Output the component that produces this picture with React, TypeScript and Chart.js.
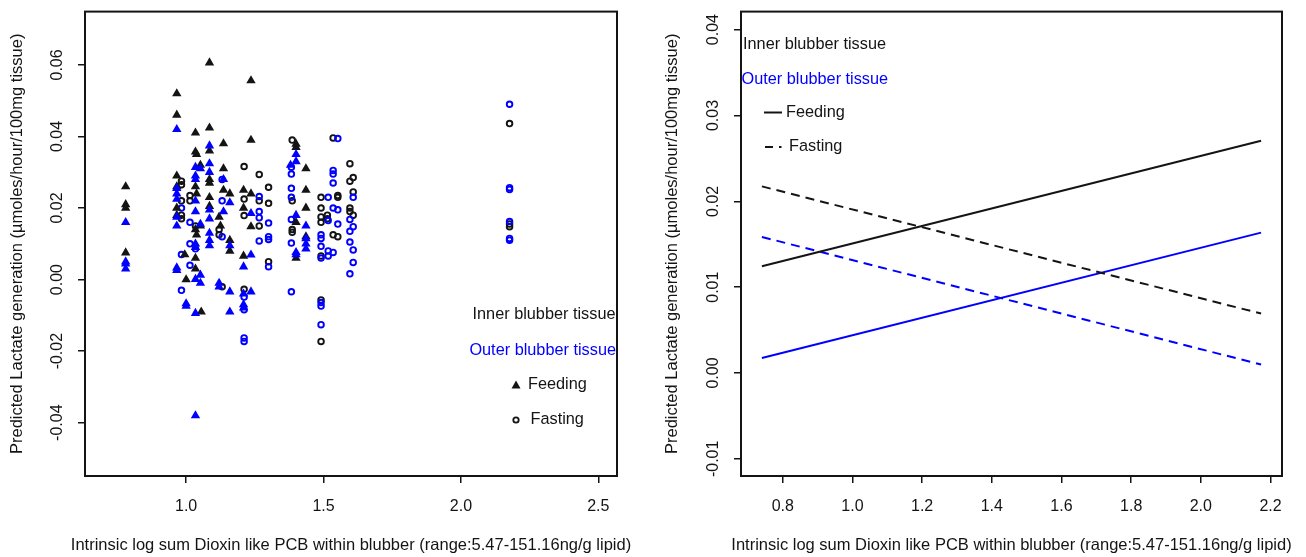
import React, { useEffect, useRef } from "react";
import { Chart, registerables } from "chart.js";
Chart.register(...registerables);

const FONT = "'Liberation Sans', Arial, sans-serif";
const BLUE = "#0000ff";
const INK = "#141414";

// ---------- tick labels ----------
const leftXTicks = [1.0, 1.5, 2.0, 2.5];
const leftYTicks = [-0.04, -0.02, 0.0, 0.02, 0.04, 0.06];
const rightXTicks = [0.8, 1.0, 1.2, 1.4, 1.6, 1.8, 2.0, 2.2];
const rightYTicks = [-0.01, 0.0, 0.01, 0.02, 0.03, 0.04];

const xTitle = "Intrinsic log sum Dioxin like PCB within blubber (range:5.47-151.16ng/g lipid)";
const yTitle = "Predicted Lactate generation (\u00b5moles/hour/100mg tissue)";

// ---------- left panel: observed/predicted points ----------
const innerFeedingX = [
  0.78, 0.78, 0.78, 0.78,
  0.966, 0.966, 0.966, 0.966, 0.966, 0.966,
  0.995, 1.0,
  1.034, 1.034, 1.034, 1.034, 1.034, 1.034,
  1.038, 1.038, 1.038,
  1.052, 1.052, 1.055,
  1.085, 1.085, 1.085, 1.085, 1.085, 1.085, 1.085,
  1.12, 1.125,
  1.136, 1.136, 1.136,
  1.159, 1.159, 1.159,
  1.209, 1.209, 1.209,
  1.236, 1.236, 1.236, 1.236,
  1.4, 1.4, 1.4, 1.4,
  1.436, 1.436, 1.436, 1.436,
];
const innerFeedingY = [
  0.026, 0.021, 0.02, 0.0075,
  0.052, 0.046, 0.029, 0.026, 0.02, 0.018,
  0.007, 0.0,
  0.041, 0.0357, 0.026, 0.014, 0.006, 0.003,
  0.035, 0.024, 0.0125,
  0.032, 0.015, -0.009,
  0.0606, 0.0424, 0.036, 0.028, 0.027, 0.023, 0.0205,
  0.0175, 0.015,
  0.038, 0.031, 0.025,
  0.024, 0.011, 0.008,
  0.025, 0.02, 0.0066,
  0.0556, 0.039, 0.024, 0.0148,
  0.0379, 0.037, 0.016, 0.006,
  0.031, 0.025, 0.02, 0.012,
];

const outerFeedingX = [
  0.78, 0.78, 0.78, 0.78,
  0.966, 0.966, 0.966, 0.966, 0.966, 0.966, 0.966, 0.966,
  1.0, 1.0,
  1.034, 1.034, 1.034, 1.034, 1.034, 1.034, 1.034, 1.034, 1.034, 1.034,
  1.052, 1.052, 1.052, 1.052,
  1.085, 1.085, 1.085, 1.085, 1.085, 1.085, 1.085, 1.085,
  1.136, 1.136, 1.12, 1.12,
  1.159, 1.159, 1.159, 1.159,
  1.209, 1.209, 1.209, 1.209,
  1.236, 1.236, 1.236,
  1.38, 1.4, 1.4, 1.4, 1.4, 1.4,
  1.436, 1.436, 1.436, 1.436,
];
const outerFeedingY = [
  0.016, 0.005, 0.0044, 0.003,
  0.042, 0.0255, 0.024, 0.0225, 0.0175, 0.015, 0.0033, 0.0026,
  -0.0067, -0.0074,
  0.0314, 0.029, 0.028, 0.022, 0.019, 0.01, 0.009, 0.0001, -0.0094, -0.038,
  0.031, 0.0155, 0.0013, -0.001,
  0.0374, 0.0324, 0.03, 0.0195, 0.017, 0.013, 0.011, 0.0095,
  0.028, 0.019, -0.001, -0.002,
  0.0215, 0.0095, -0.0034, -0.009,
  0.0036, -0.004, -0.007, -0.0079,
  0.0185, 0.0069, -0.0034,
  0.032, 0.035, 0.033, 0.018, 0.0076, 0.007,
  0.015, 0.0115, 0.01, 0.0086,
];

const innerFastingX = [
  0.983, 0.983, 0.983, 0.983, 0.983,
  1.014, 1.014, 1.034,
  1.12, 1.12, 1.131,
  1.211, 1.211, 1.211, 1.211,
  1.266, 1.266, 1.266,
  1.3, 1.3, 1.3,
  1.386, 1.386, 1.386, 1.386,
  1.491, 1.491, 1.491, 1.491, 1.491, 1.491, 1.491,
  1.514, 1.514,
  1.535, 1.535,
  1.552, 1.552, 1.552,
  1.596, 1.596, 1.596, 1.596,
  1.608, 1.608, 1.608,
  2.177, 2.177, 2.177,
];
const innerFastingY = [
  0.0275, 0.0265, 0.022, 0.018, 0.017,
  0.0235, 0.022, 0.015,
  0.014, 0.0125, -0.002,
  0.0316, 0.0225, 0.0179, -0.0027,
  0.0294, 0.022, 0.015,
  0.0258, 0.0213, 0.005,
  0.039, 0.022, 0.014, 0.0132,
  0.023, 0.02, 0.0175, 0.016, 0.0066, -0.0057, -0.0173,
  0.018, 0.017,
  0.0396, 0.0125,
  0.0235, 0.023, 0.012,
  0.0324, 0.0275, 0.02, 0.019,
  0.0285, 0.0245, 0.018,
  0.0436, 0.0155, 0.0148,
];

const outerFastingX = [
  0.983, 0.983, 0.983,
  1.014, 1.014, 1.014, 1.034,
  1.131, 1.131, 1.131,
  1.211, 1.211, 1.211, 1.211,
  1.266, 1.266, 1.266, 1.266,
  1.3, 1.3, 1.3, 1.3,
  1.383, 1.383, 1.383, 1.383, 1.383, 1.383, 1.383,
  1.491, 1.491, 1.491, 1.491, 1.491, 1.491, 1.491,
  1.517, 1.517, 1.517, 1.517,
  1.535, 1.535, 1.535, 1.535, 1.535,
  1.552, 1.552, 1.552,
  1.596, 1.596, 1.596, 1.596,
  1.608, 1.608, 1.608, 1.608,
  2.177, 2.177, 2.177, 2.177, 2.177, 2.177,
];
const outerFastingY = [
  0.02, 0.007, -0.003,
  0.016, 0.01, 0.004, 0.0086,
  0.028, 0.022, 0.012,
  -0.0049, -0.0084, -0.0163, -0.0173,
  0.0232, 0.019, 0.0173, 0.0108,
  0.0158, 0.012, 0.0112, 0.0036,
  0.0314, 0.0295, 0.0255, 0.023, 0.0168, 0.0102, -0.0034,
  0.0125, 0.0115, 0.0093, 0.006, -0.0064, -0.0074, -0.0126,
  0.023, 0.0165, 0.008, 0.0066,
  0.0305, 0.0295, 0.027, 0.02, 0.0076,
  0.0394, 0.0195, 0.0155,
  0.0168, 0.0135, 0.0105, 0.0016,
  0.023, 0.0148, 0.0083, 0.0048,
  0.049, 0.0257, 0.0252, 0.0162, 0.0115, 0.011,
];

// ---------- right panel: fitted lines ----------
const fitX = [0.74, 2.173];
const innerFeedingFit = [0.01244, 0.02706];
const innerFastingFit = [0.02174, 0.00692];
const outerFeedingFit = [0.00174, 0.01635];
const outerFastingFit = [0.01585, 0.00098];

const pts = (xs: number[], ys: number[]) => xs.map((x, i) => ({ x, y: ys[i] }));

const boxPlugin = {
  id: "rbox",
  afterDraw(chart: any) {
    const { ctx, chartArea: a } = chart;
    ctx.save();
    ctx.strokeStyle = INK;
    ctx.lineWidth = 2;
    ctx.strokeRect(a.left, a.top, a.right - a.left, a.bottom - a.top);
    ctx.restore();
  },
};

function text(ctx: CanvasRenderingContext2D, s: string, x: number, y: number, color: string, align: CanvasTextAlign = "left") {
  ctx.fillStyle = color;
  ctx.textAlign = align;
  ctx.textBaseline = "middle";
  ctx.fillText(s, x, y);
}

// axis titles drawn without the width squeeze Chart.js applies to scale titles
function titlePlugin(yTitleX: number) {
  return {
    id: "rtitles",
    afterDraw(chart: any) {
      const ctx: CanvasRenderingContext2D = chart.ctx;
      const a = chart.chartArea;
      ctx.save();
      ctx.font = `16.5px ${FONT}`;
      text(ctx, xTitle, (a.left + a.right) / 2, 545, INK, "center");
      ctx.translate(yTitleX, (a.top + a.bottom) / 2);
      ctx.rotate(-Math.PI / 2);
      text(ctx, yTitle, 0, 0, INK, "center");
      ctx.restore();
    },
  };
}

const leftLegendPlugin = {
  id: "leftLegend",
  afterDraw(chart: any) {
    const ctx: CanvasRenderingContext2D = chart.ctx;
    ctx.save();
    ctx.font = `16.3px ${FONT}`;
    text(ctx, "Inner blubber tissue", 615.5, 315, INK, "right");
    text(ctx, "Outer blubber tissue", 616, 351, BLUE, "right");
    ctx.fillStyle = INK;
    ctx.beginPath();
    ctx.moveTo(516, 380.5);
    ctx.lineTo(520.5, 388.5);
    ctx.lineTo(511.5, 388.5);
    ctx.closePath();
    ctx.fill();
    text(ctx, "Feeding", 528, 385, INK);
    ctx.strokeStyle = INK;
    ctx.lineWidth = 1.8;
    ctx.beginPath();
    ctx.arc(516, 420, 2.7, 0, Math.PI * 2);
    ctx.stroke();
    text(ctx, "Fasting", 530.5, 420, INK);
    ctx.restore();
  },
};

const rightLegendPlugin = {
  id: "rightLegend",
  afterDraw(chart: any) {
    const ctx: CanvasRenderingContext2D = chart.ctx;
    ctx.save();
    ctx.font = `16.3px ${FONT}`;
    text(ctx, "Inner blubber tissue", 90, 45, INK);
    text(ctx, "Outer blubber tissue", 88.5, 79.5, BLUE);
    ctx.strokeStyle = INK;
    ctx.lineWidth = 2;
    ctx.beginPath();
    ctx.moveTo(111, 112.5);
    ctx.lineTo(129, 112.5);
    ctx.stroke();
    text(ctx, "Feeding", 133, 112.5, INK);
    ctx.beginPath();
    ctx.moveTo(112, 147);
    ctx.lineTo(120, 147);
    ctx.moveTo(126, 147);
    ctx.lineTo(128.5, 147);
    ctx.stroke();
    text(ctx, "Fasting", 136, 147, INK);
    ctx.restore();
  },
};

function axes(opts: {
  xmin: number; xmax: number; ymin: number; ymax: number;
  xticks: number[]; yticks: number[]; xdec: number; ydec: number;
  yWidth: number;
}) {
  const font = { family: FONT, size: 16 };
  return {
    x: {
      type: "linear",
      min: opts.xmin,
      max: opts.xmax,
      afterBuildTicks: (s: any) => { s.ticks = opts.xticks.map((v) => ({ value: v })); },
      afterFit: (s: any) => { s.height = 81; },
      border: { display: false },
      grid: { drawOnChartArea: false, drawTicks: true, tickLength: 7, color: INK, lineWidth: 1.5 },
      ticks: {
        font, color: INK, padding: 14, maxRotation: 0, autoSkip: false,
        callback: (v: any) => Number(v).toFixed(opts.xdec),
      },
      title: { display: false },
    },
    y: {
      type: "linear",
      min: opts.ymin,
      max: opts.ymax,
      afterBuildTicks: (s: any) => { s.ticks = opts.yticks.map((v) => ({ value: v })); },
      afterFit: (s: any) => { s.width = opts.yWidth; },
      border: { display: false },
      grid: { drawOnChartArea: false, drawTicks: true, tickLength: 7, color: INK, lineWidth: 1.5 },
      ticks: {
        font, color: INK, padding: 2, minRotation: 90, maxRotation: 90, crossAlign: "center", autoSkip: false,
        callback: (v: any) => Number(v).toFixed(opts.ydec),
      },
      title: { display: false },
    },
  };
}

export default function App() {
  const leftRef = useRef<HTMLCanvasElement>(null);
  const rightRef = useRef<HTMLCanvasElement>(null);

  useEffect(() => {
    const tri = (color: string) => ({
      pointStyle: "triangle", pointRadius: 5.4, pointBackgroundColor: color,
      pointBorderColor: color, pointBorderWidth: 0, backgroundColor: color, borderColor: color,
    });
    const ring = (color: string) => ({
      pointStyle: "circle", pointRadius: 2.8, pointBackgroundColor: "rgba(0,0,0,0)",
      pointBorderColor: color, pointBorderWidth: 1.9, backgroundColor: "rgba(0,0,0,0)", borderColor: color,
    });

    const left = new Chart(leftRef.current as HTMLCanvasElement, {
      type: "scatter",
      data: {
        datasets: [
          { label: "Outer feeding", data: pts(outerFeedingX, outerFeedingY), ...tri(BLUE) },
          { label: "Inner feeding", data: pts(innerFeedingX, innerFeedingY), ...tri(INK) },
          { label: "Outer fasting", data: pts(outerFastingX, outerFastingY), ...ring(BLUE) },
          { label: "Inner fasting", data: pts(innerFastingX, innerFastingY), ...ring(INK) },
        ] as any,
      },
      options: {
        animation: false,
        responsive: false,
        devicePixelRatio: 1,
        events: [],
        layout: { padding: { top: 10, right: 36, bottom: 0, left: 0 } },
        plugins: { legend: { display: false }, tooltip: { enabled: false } },
        scales: axes({
          xmin: 0.632, xmax: 2.568, ymin: -0.0549, ymax: 0.0749,
          xticks: leftXTicks, yticks: leftYTicks, xdec: 1, ydec: 2, yWidth: 85,
        }) as any,
      },
      plugins: [boxPlugin, leftLegendPlugin, titlePlugin(17)],
    });

    const line = (ys: number[], color: string, dashed: boolean) => ({
      data: pts(fitX, ys), showLine: true, pointRadius: 0, borderColor: color,
      borderWidth: 2, borderDash: dashed ? [9, 6] : [], backgroundColor: color,
    });

    const right = new Chart(rightRef.current as HTMLCanvasElement, {
      type: "scatter",
      data: {
        datasets: [
          { label: "Inner feeding", ...line(innerFeedingFit, INK, false) },
          { label: "Inner fasting", ...line(innerFastingFit, INK, true) },
          { label: "Outer feeding", ...line(outerFeedingFit, BLUE, false) },
          { label: "Outer fasting", ...line(outerFastingFit, BLUE, true) },
        ] as any,
      },
      options: {
        animation: false,
        responsive: false,
        devicePixelRatio: 1,
        events: [],
        layout: { padding: { top: 10, right: 24, bottom: 0, left: 0 } },
        plugins: { legend: { display: false }, tooltip: { enabled: false } },
        scales: axes({
          xmin: 0.68, xmax: 2.233, ymin: -0.012, ymax: 0.0421,
          xticks: rightXTicks, yticks: rightYTicks, xdec: 1, ydec: 2, yWidth: 88,
        }) as any,
      },
      plugins: [boxPlugin, rightLegendPlugin, titlePlugin(19.5)],
    });

    return () => {
      left.destroy();
      right.destroy();
    };
  }, []);

  return (
    <div style={{ position: "fixed", left: 0, top: 0, width: 1306, height: 557, background: "#fff" }}>
      <canvas ref={leftRef} width={653} height={557} style={{ position: "absolute", left: 0, top: 0, width: 653, height: 557 }} />
      <canvas ref={rightRef} width={653} height={557} style={{ position: "absolute", left: 653, top: 0, width: 653, height: 557 }} />
    </div>
  );
}
